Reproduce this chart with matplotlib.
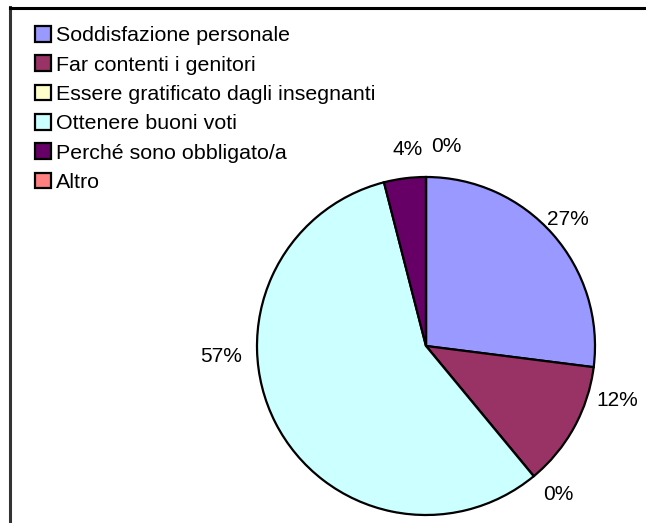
import matplotlib.pyplot as plt
from matplotlib.lines import Line2D

plt.rcParams['font.family'] = ['Liberation Sans', 'DejaVu Sans']

labels = ['Soddisfazione personale', 'Far contenti i genitori',
          'Essere gratificato dagli insegnanti', 'Ottenere buoni voti',
          'Perché sono obbligato/a', 'Altro']
values = [27, 12, 0, 57, 4, 0]
colors = ['#9999FF', '#993366', '#FFFFCC', '#CCFFFF', '#660066', '#FF8080']
# where each percentage label sits (pie radius units), as in the original
label_pos = [(0.84, 0.75), (1.13, -0.32), (0.78, -0.88),
             (-1.21, -0.065), (-0.11, 1.16), (0.12, 1.18)]

fig = plt.figure(figsize=(6.46, 5.23), dpi=100)
W, H = 646, 523
cx, cy, r = 426, 346, 169
ax = fig.add_axes([(cx - r) / W, (H - cy - r) / H, 2 * r / W, 2 * r / H])

wedges, texts = ax.pie(values, colors=colors, startangle=90, counterclock=False,
                       wedgeprops=dict(edgecolor='black', linewidth=1.6))
ax.set_xlim(-1, 1)
ax.set_ylim(-1, 1)
ax.set_aspect('auto')
ax.axis('off')

for v, (px, py) in zip(values, label_pos):
    ax.text(px, py, f'{v}%', ha='center', va='center', fontsize=15, clip_on=False)

fig.legend(wedges, labels, loc='upper left', bbox_to_anchor=(35 / W, 1 - 26 / H),
           frameon=False, fontsize=15.4, handlelength=0.75, handleheight=0.75,
           handletextpad=0.25, labelspacing=0.47, borderaxespad=0, borderpad=0)

# frame lines (left and top) around the chart area
fig.add_artist(Line2D([10 / W, 10 / W], [0, 1 - 7 / H], color='#333333', lw=2.2,
                      transform=fig.transFigure))
fig.add_artist(Line2D([10 / W, 1], [1 - 8 / H, 1 - 8 / H], color='black', lw=2.2,
                      transform=fig.transFigure))

plt.savefig('out.png', dpi=100)
